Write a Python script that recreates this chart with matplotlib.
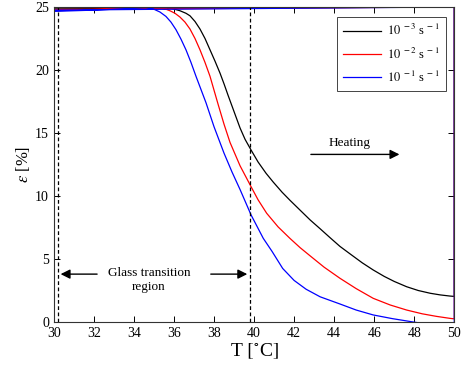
import numpy as np
import matplotlib
matplotlib.use('Agg')
import matplotlib.pyplot as plt

plt.rcParams['font.family'] = ['Liberation Serif', 'DejaVu Serif']
plt.rcParams['mathtext.fontset'] = 'stix'

# heating curves (T in degC, strain in %), then back up at 50 and the return path near 25
t_black = [30, 32, 34, 35, 35.6, 35.9, 36.3, 36.6, 36.8, 37.05, 37.3, 37.55, 37.8, 38.05, 38.3,
           38.5, 38.7, 39.0, 39.3, 39.55, 39.85, 40.2, 40.6, 40.96, 41.4, 41.8, 42.29, 42.8,
           43.3, 43.79, 44.29, 44.8, 45.4, 45.95, 46.5, 47.0, 47.62, 48.2, 48.8, 49.3, 49.78,
           50, 50, 30]
e_black = [24.7, 24.8, 24.9, 24.95, 24.95, 24.88, 24.7, 24.5, 24.3, 23.85, 23.25, 22.5, 21.6, 20.7, 19.75,
           18.9, 18.0, 16.7, 15.4, 14.5, 13.65, 12.7, 11.8, 11.1, 10.3, 9.65, 8.89, 8.1,
           7.4, 6.7, 6.0, 5.4, 4.7, 4.13, 3.62, 3.22, 2.8, 2.5, 2.28, 2.15, 2.06,
           2.03, 25.0, 24.85]

t_red = [30, 32, 34, 35, 35.3, 35.6, 35.8, 36.05, 36.3, 36.55, 36.8, 37.05, 37.3, 37.55, 37.8,
         38.0, 38.2, 38.5, 38.8, 39.3, 39.85, 40.2, 40.63, 41.2, 41.79, 42.3, 42.8, 43.5,
         44.29, 45.1, 45.95, 46.8, 47.62, 48.4, 49.1, 49.78, 50, 50, 30]
e_red = [24.75, 24.8, 24.9, 24.95, 24.92, 24.82, 24.7, 24.5, 24.2, 23.8, 23.25, 22.5, 21.6, 20.6, 19.5,
         18.4, 17.3, 15.7, 14.25, 12.4, 10.74, 9.7, 8.63, 7.55, 6.64, 5.9, 5.25, 4.35,
         3.47, 2.65, 1.88, 1.35, 0.95, 0.65, 0.45, 0.29, 0.25, 25.0, 24.8]

t_blue = [30, 32, 34, 34.6, 35.0, 35.3, 35.6, 35.85, 36.1, 36.35, 36.6, 36.85, 37.1, 37.35, 37.6,
          38.0, 38.5, 38.9, 39.31, 39.85, 40.46, 40.9, 41.43, 42.0, 42.6, 43.3, 44.29, 45.1,
          45.95, 46.9, 47.95, 49, 50, 50, 30]
e_blue = [24.65, 24.75, 24.9, 24.95, 24.82, 24.6, 24.25, 23.8, 23.2, 22.45, 21.6, 20.6, 19.5, 18.45, 17.4,
          15.5, 13.4, 11.9, 10.48, 8.5, 6.64, 5.6, 4.25, 3.3, 2.6, 2.0, 1.43, 0.95,
          0.56, 0.27, 0.0, -0.25, -0.45, 25.0, 24.75]

labels = [r'$10^{\ -3}$ s$^{\ -1}$', r'$10^{\ -2}$ s$^{\ -1}$', r'$10^{\ -1}$ s$^{\ -1}$']

fig = plt.figure(figsize=(4.62, 3.67), dpi=100)
ax = fig.add_axes([0.1165, 0.1226, 0.8668, 0.8584])

ax.plot(t_black, e_black, color='k', lw=0.9, label=labels[0])
ax.plot(t_red, e_red, color='r', lw=0.9, label=labels[1])
ax.plot(t_blue, e_blue, color='b', lw=0.9, label=labels[2])

ax.axvline(30.2, color='k', ls='--', lw=0.9, dashes=(3, 2))
ax.axvline(39.8, color='k', ls='--', lw=0.9, dashes=(3, 2))

arrow = dict(arrowstyle='-|>', color='k', lw=1.0, mutation_scale=14)
ax.annotate('', xy=(30.2, 3.8), xytext=(32.3, 3.8), arrowprops=arrow)
ax.annotate('', xy=(39.8, 3.8), xytext=(37.7, 3.8), arrowprops=arrow)
ax.text(34.75, 4.35, 'Glass transition\nregion', ha='center', va='top',
        fontsize=9.5, linespacing=1.15)

ax.annotate('', xy=(47.4, 13.3), xytext=(42.7, 13.3), arrowprops=arrow)
ax.text(44.75, 13.7, 'Heating', ha='center', va='bottom', fontsize=9.5)

ax.set_xlim(30, 50)
ax.set_ylim(0, 25)
ax.set_xticks(np.arange(30, 51, 2))
ax.set_yticks(np.arange(0, 26, 5))
ax.tick_params(direction='in', top=True, right=True, labelsize=10, length=4, width=0.7)
for s in ax.spines.values():
    s.set_linewidth(0.8)
    s.set_color('#333333')

ax.set_xlabel(r'T $[^{\circ}$C$]$', fontsize=14, labelpad=1)
ax.set_ylabel(r'$\varepsilon$ [%]', fontsize=12, labelpad=2)

leg = ax.legend(loc='upper right', bbox_to_anchor=(0.979, 0.968), fontsize=9,
                fancybox=False, edgecolor='#444444', framealpha=1,
                handlelength=3.0, handletextpad=0.5, borderpad=0.5, labelspacing=0.65,
                borderaxespad=0)
leg.get_frame().set_linewidth(0.7)

fig.savefig('out.png', dpi=100)
